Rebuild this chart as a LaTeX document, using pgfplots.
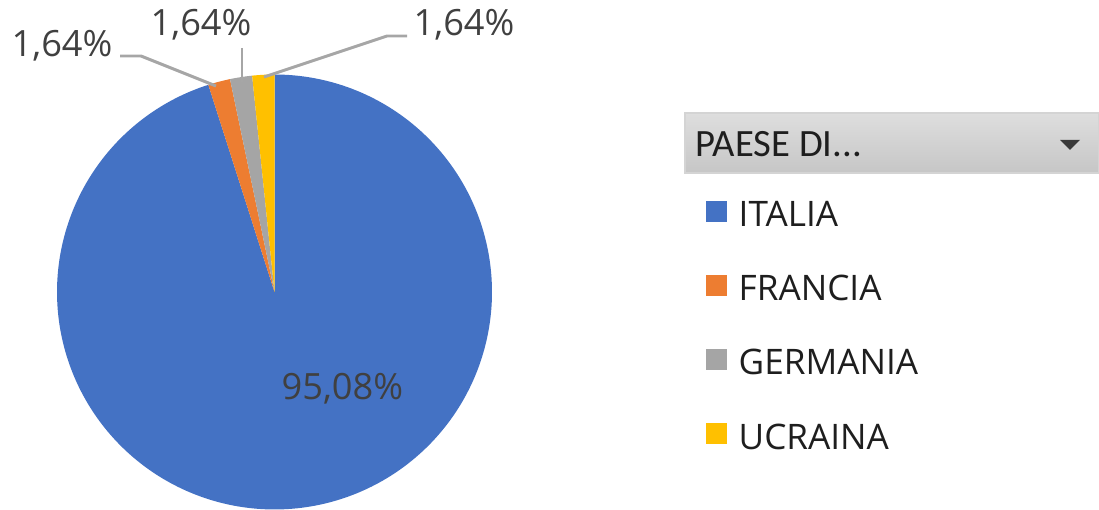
\documentclass[border=0pt]{standalone}
\usepackage{pgfplots}
\pgfplotsset{compat=1.18}
\usepackage{fontspec}
\setmainfont{Open Sans}
\newfontfamily\hdrfont{Carlito}
\definecolor{cIT}{HTML}{4472C4}
\definecolor{cFR}{HTML}{ED7D31}
\definecolor{cDE}{HTML}{A5A5A5}
\definecolor{cUA}{HTML}{FFC000}
\definecolor{cLine}{HTML}{A6A6A6}
\definecolor{cLab}{HTML}{404040}
\definecolor{cLeg}{HTML}{1E1E1E}
\definecolor{hTop}{HTML}{DEDEDE}
\definecolor{hBot}{HTML}{C6C6C6}
\definecolor{hBord}{HTML}{D4D4D4}
\definecolor{cTri}{HTML}{3A3A3A}
% data (percent)
\def\vIT{95.08}
\def\vFR{1.64}
\def\vDE{1.64}
\def\vUA{1.64}
\pgfmathsetmacro{\aA}{3.6*\vIT}
\pgfmathsetmacro{\aB}{\aA+3.6*\vFR}
\pgfmathsetmacro{\aC}{\aB+3.6*\vDE}
\pgfmathsetmacro{\aD}{\aC+3.6*\vUA}
\def\cx{274.5}
\def\cy{292}
\def\R{217.5}
\begin{document}
\begin{tikzpicture}
\begin{axis}[name=ax, width=10.99cm, height=5.1cm, scale only axis,
  xmin=0, xmax=1099, ymin=0, ymax=510, y dir=reverse,
  hide axis, clip=false,
  legend cell align=left,
  legend image code/.code={\fill[#1] (0mm,-0.74mm) rectangle (2.1mm,1.36mm);},
  legend style={draw=none, fill=none, at={(axis cs:705,200)}, anchor=north west,
    inner sep=0pt, row sep=4.8mm, column sep=1.2mm,
    font=\fontsize{10}{12}\selectfont, text=cLeg,
    nodes={inner sep=0pt, text height=2.5mm, text depth=0pt}},
]
\addplot[fill=cIT, draw=none, domain=0:\aA, samples=300, variable=\t]
  ({\cx+\R*sin(\t)}, {\cy-\R*cos(\t)}) -- (axis cs:\cx,\cy) -- cycle;
\addlegendentry{ITALIA}
\addplot[fill=cFR, draw=none, domain=\aA:\aB, samples=10, variable=\t]
  ({\cx+\R*sin(\t)}, {\cy-\R*cos(\t)}) -- (axis cs:\cx,\cy) -- cycle;
\addlegendentry{FRANCIA}
\addplot[fill=cDE, draw=none, domain=\aB:\aC, samples=10, variable=\t]
  ({\cx+\R*sin(\t)}, {\cy-\R*cos(\t)}) -- (axis cs:\cx,\cy) -- cycle;
\addlegendentry{GERMANIA}
\addplot[fill=cUA, draw=none, domain=\aC:\aD, samples=10, variable=\t]
  ({\cx+\R*sin(\t)}, {\cy-\R*cos(\t)}) -- (axis cs:\cx,\cy) -- cycle;
\addlegendentry{UCRAINA}
% leader lines
\draw[cLine, line width=0.85pt] (axis cs:120,56) -- (axis cs:141,56) -- (axis cs:216,86);
\draw[cLine, line width=0.85pt] (axis cs:242,48) -- (axis cs:242,82);
\draw[cLine, line width=0.85pt] (axis cs:407,36) -- (axis cs:387,36) -- (axis cs:264,77);
% data labels
\node[anchor=base west, inner sep=0pt, text=cLab, font=\fontsize{10.3}{12}\selectfont] at (axis cs:11,57) {1,64\%};
\node[anchor=base west, inner sep=0pt, text=cLab, font=\fontsize{10.3}{12}\selectfont] at (axis cs:150,36) {1,64\%};
\node[anchor=base west, inner sep=0pt, text=cLab, font=\fontsize{10.3}{12}\selectfont] at (axis cs:413,36) {1,64\%};
\node[anchor=base west, inner sep=0pt, text=cLab, font=\fontsize{10.3}{12}\selectfont] at (axis cs:281,400) {95,08\%};
% legend header
\shade[top color=hTop, bottom color=hBot] (axis cs:685,113) rectangle (axis cs:1099,173);
\draw[hBord, line width=0.3pt] (axis cs:685,113) rectangle (axis cs:1099,173);
\node[anchor=base west, inner sep=0pt, text=cLeg, font=\hdrfont\fontsize{11}{13}\selectfont] at (axis cs:695,157) {PAESE DI...};
\fill[cTri] (axis cs:1060,140) -- (axis cs:1080,140) -- (axis cs:1070,150) -- cycle;
\end{axis}
\pgfresetboundingbox
\path (ax.south west) rectangle (ax.north east);
\end{tikzpicture}
\end{document}
